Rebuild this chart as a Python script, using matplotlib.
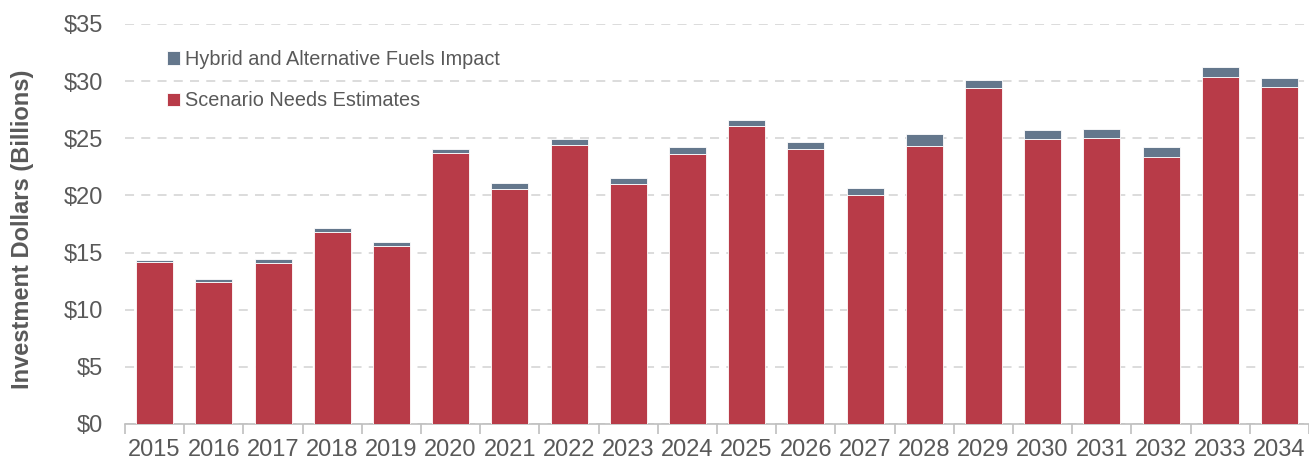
import matplotlib
matplotlib.use("Agg")
import matplotlib.pyplot as plt
import numpy as np

years = ["2015", "2016", "2017", "2018", "2019", "2020", "2021", "2022", "2023", "2024",
         "2025", "2026", "2027", "2028", "2029", "2030", "2031", "2032", "2033", "2034"]
scenario = [14.15, 12.4, 14.13, 16.8, 15.55, 23.7, 20.6, 24.4, 21.0, 23.65,
            26.05, 24.05, 20.03, 24.3, 29.4, 24.9, 25.05, 23.37, 30.4, 29.48]
total = [14.39, 12.7, 14.48, 17.15, 15.9, 24.1, 21.05, 24.97, 21.5, 24.2,
         26.6, 24.7, 20.64, 25.37, 30.09, 25.7, 25.8, 24.24, 31.22, 30.29]
hybrid = [t - s for t, s in zip(total, scenario)]

yticks = [0, 5, 10, 15, 20, 25, 30, 35]
ytick_labels = ["$0", "$5", "$10", "$15", "$20", "$25", "$30", "$35"]

plt.rcParams['font.family'] = ['Liberation Sans', 'DejaVu Sans']
txt = '#595959'
red = '#B83B48'
blue = '#64778C'

fig = plt.figure(figsize=(13.09, 4.63), dpi=100)
ax = fig.add_axes([125/1309, 1-424/463, 1-125/1309, (424-24)/463])

x = np.arange(len(years))
w = 0.625
ax.bar(x, scenario, width=w, color=red, edgecolor='white', linewidth=0.6,
       label='Scenario Needs Estimates', zorder=3)
ax.bar(x, hybrid, bottom=scenario, width=w, color=blue, edgecolor='white', linewidth=0.6,
       label='Hybrid and Alternative Fuels Impact', zorder=3)

ax.set_xlim(-0.5, len(years) - 0.5)
ax.set_ylim(0, 35)
ax.set_yticks(yticks)
ax.set_yticklabels(ytick_labels, fontsize=17, color=txt)
ax.set_xticks(x)
ax.set_xticklabels(years, fontsize=17, color=txt)
ax.set_xticks(np.arange(-0.5, len(years), 1.0), minor=True)
ax.tick_params(axis='x', which='major', length=0, pad=11)
ax.tick_params(axis='x', which='minor', length=7, color='#BFBFBF', width=1.2)
ax.tick_params(axis='y', length=0, pad=16)

for s in ['top', 'right', 'left']:
    ax.spines[s].set_visible(False)
ax.spines['bottom'].set_color('#BFBFBF')
ax.spines['bottom'].set_linewidth(1.2)

ax.grid(axis='y', color='#D9D9D9', linestyle=(0, (5, 4)), linewidth=1.3, zorder=0)
ax.set_axisbelow(True)

ax.set_ylabel('Investment Dollars (Billions)', fontsize=17, fontweight='bold', color=txt,
              va='center')
ax.yaxis.set_label_coords((23 - 125) / 1184, 0.4875)

handles, labels = ax.get_legend_handles_labels()
leg = ax.legend(handles[::-1], labels[::-1], loc='upper left', bbox_to_anchor=(0.0205, 0.98),
                frameon=False, fontsize=14.3, handlelength=0.65, handleheight=0.65,
                handletextpad=0.25, labelspacing=1.12, labelcolor=txt)

fig.savefig('out.png', dpi=100)
